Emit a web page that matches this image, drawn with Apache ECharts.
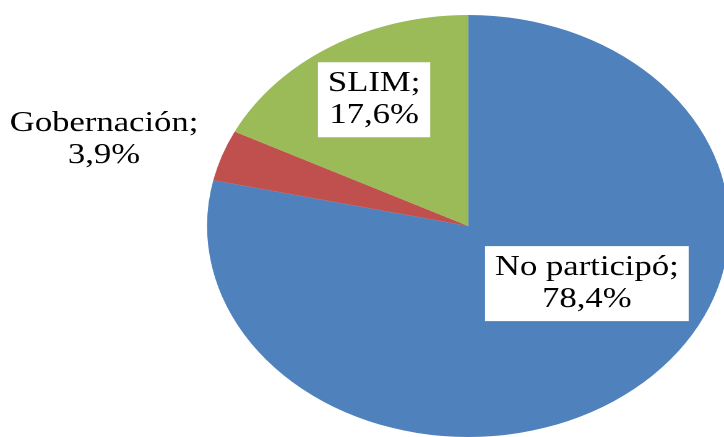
<!DOCTYPE html>
<html>
<head>
<meta charset="utf-8">
<script src="https://cdn.jsdelivr.net/npm/echarts@6/dist/echarts.min.js"></script>
<style>
  html, body { margin: 0; padding: 0; background: #fff; overflow: hidden; }
  /* the original chart is stretched horizontally, slices and text alike */
  #chart {
    width: 585px;
    height: 437px;
    transform: scaleX(1.2376);
    transform-origin: 0 0;
  }
</style>
</head>
<body>
<div id="chart"></div>
<script>
const categories = ["No participó", "Gobernación", "SLIM"];
const values = [78.4, 3.9, 17.6];

const colors = ["#4F81BD", "#C0504D", "#9BBB59"];

const boxLabel = {
  backgroundColor: "#fff",
  padding: [6, 8, 5, 8],
};

// label tweaks per slice, to match the original placement
const labelFor = {
  "No participó": Object.assign({ offset: [28, -27] }, boxLabel),
  "Gobernación": { offset: [-192, -50] },
  "SLIM": Object.assign({ offset: [-19, -34] }, boxLabel),
};

const chart = echarts.init(document.getElementById("chart"), null, {
  renderer: "canvas",
  devicePixelRatio: 2,
});

chart.setOption({
  animation: false,
  color: colors,
  series: [
    {
      type: "pie",
      center: [378.3, 226],
      radius: 211,
      startAngle: 90,
      clockwise: true,
      silent: true,
      data: categories.map((name, i) => ({
        name: name,
        value: values[i],
        label: labelFor[name],
      })),
      label: {
        show: true,
        position: "inside",
        color: "#000",
        fontFamily: "Liberation Serif",
        fontSize: 28,
        lineHeight: 32,
        align: "center",
        formatter(params) {
          return params.name + ";\n" + params.value.toFixed(1).replace(".", ",") + "%";
        },
      },
      labelLine: { show: false },
      itemStyle: {
        borderWidth: 0,
      },
      emphasis: { disabled: true },
    },
  ],
});
</script>
</body>
</html>
